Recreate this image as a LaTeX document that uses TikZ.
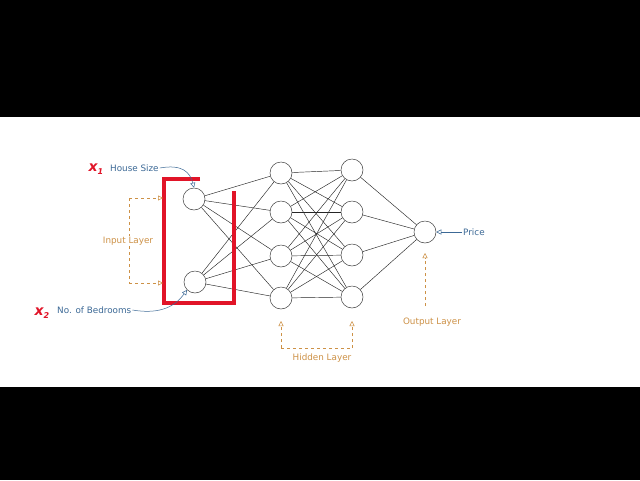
\documentclass[tikz,border=0pt]{standalone}
\usepackage{fontspec}
\setmainfont{DejaVu Sans}
\usetikzlibrary{arrows.meta}
\definecolor{lblue}{RGB}{60,105,150}
\definecolor{lorange}{RGB}{205,145,70}
\definecolor{lred}{RGB}{225,20,40}
\tikzset{
  neuron/.style={circle,draw=black!75,line width=0.5pt,minimum size=22pt,inner sep=0pt,fill=white},
  link/.style={draw=black!85,line width=0.45pt},
  bluelbl/.style={text=lblue,font=\fontsize{8.8}{10}\selectfont,inner sep=1pt},
  orlbl/.style={text=lorange,font=\fontsize{8.8}{10}\selectfont,inner sep=1pt,fill=white},
  dashlink/.style={draw=lorange,dashed,line width=0.5pt,-{Triangle[open,length=5pt,width=5pt]}},
  bluearrow/.style={draw=lblue,line width=0.5pt,-{Triangle[open,length=5pt,width=5pt]}},
  redbar/.style={draw=lred,line width=3.5pt},
}
\begin{document}
\begin{tikzpicture}[x=1pt,y=-1pt]
\useasboundingbox (0,0) rectangle (640,480);
\fill[white] (0,0) rectangle (640,480);
\fill[black] (0,0) rectangle (640,117);
\fill[black] (0,387) rectangle (640,480);
% neurons
\node[neuron] (i1) at (194,199) {};
\node[neuron] (i2) at (195,282) {};
\node[neuron] (a1) at (281,173) {};
\node[neuron] (a2) at (281,212) {};
\node[neuron] (a3) at (281,256) {};
\node[neuron] (a4) at (281,298) {};
\node[neuron] (b1) at (352,170) {};
\node[neuron] (b2) at (352,212) {};
\node[neuron] (b3) at (352,255) {};
\node[neuron] (b4) at (352,297) {};
\node[neuron] (o) at (425,232) {};
\foreach \i in {i1,i2}{\foreach \a in {a1,a2,a3,a4}{\draw[link] (\i) -- (\a);}}
\foreach \a in {a1,a2,a3,a4}{\foreach \b in {b1,b2,b3,b4}{\draw[link] (\a) -- (\b);}}
\foreach \b in {b1,b2,b3,b4}{\draw[link] (\b) -- (o);}
% red bracket
\coordinate (r1) at (200,179);
\coordinate (r2) at (164,179);
\coordinate (r3) at (164,303);
\coordinate (r4) at (234,303);
\coordinate (r5) at (234,191);
\draw[redbar] (r1) -- (r2) -- (r3) -- (r4) -- (r5);
% labels
\node[bluelbl,anchor=west] (hs) at (109,168) {House Size};
\node[bluelbl,anchor=west] (nb) at (56,310) {No. of Bedrooms};
\node[text=lred,font=\bfseries\itshape\fontsize{14}{14}\selectfont,inner sep=0pt] (x1) at (96,169) {x\raisebox{-3pt}{\fontsize{8}{8}\selectfont 1}};
\node[text=lred,font=\bfseries\itshape\fontsize{14}{14}\selectfont,inner sep=0pt] (x2) at (42,313) {x\raisebox{-3pt}{\fontsize{8}{8}\selectfont 2}};
\draw[bluearrow] (hs.east) .. controls (182,164) and (190,172) .. (i1.north);
\draw[bluearrow] (nb.east) .. controls (162,315) and (176,305) .. (i2.south west);
\node[bluelbl,anchor=west] (pr) at (462,232) {Price};
\draw[bluearrow] (pr.west) -- (o.east);
% input layer bracket
\coordinate (il1) at (129,198);
\coordinate (il2) at (129,283);
\draw[dashlink] (il1) -- (163,198);
\draw[dashlink] (il2) -- (163,283);
\draw[draw=lorange,dashed,line width=0.5pt] (il1) -- (il2);
\node[orlbl] (il) at (128,241) {Input Layer};
% hidden layer bracket
\coordinate (hl1) at (281,348);
\coordinate (hl2) at (352,348);
\draw[dashlink] (hl1) -- (281,321);
\draw[dashlink] (hl2) -- (352,321);
\draw[draw=lorange,dashed,line width=0.5pt] (hl1) -- (hl2);
\node[orlbl] (hl) at (322,358) {Hidden Layer};
% output layer
\node[orlbl] (ol) at (432,322) {Output Layer};
\draw[dashlink] (425,306) -- (o.south |- 0,253);
\end{tikzpicture}
\end{document}
